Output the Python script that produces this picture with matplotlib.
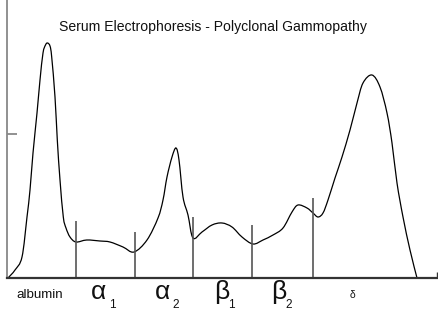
import matplotlib
matplotlib.use("Agg")
import matplotlib.pyplot as plt
from matplotlib.path import Path
from matplotlib.patches import PathPatch

plt.rcParams['font.family'] = ['Liberation Sans', 'DejaVu Sans']

# Densitometric trace of the serum protein electrophoresis (mobility, absorbance)
mobility = [1, 8, 15, 20, 23, 26, 30, 33, 36, 38.5, 40.5, 43, 44.7, 48, 50.3, 53, 56.3,
            59, 63, 69, 79.7, 93, 103, 116, 127, 140, 151, 156, 160, 165, 169, 172,
            176, 181, 186, 195, 205, 215, 225, 235, 246, 256, 266, 276, 285, 291,
            300, 306, 311, 316, 321, 328, 335, 343, 350, 356, 365, 373, 380, 385,
            390, 396, 403, 410]
absorbance = [0, 8, 21, 61, 88, 125, 165, 198, 225, 233, 235, 232, 221, 181, 138, 98, 61,
              50, 41, 36, 38, 37, 36, 31, 26, 38, 60, 78, 101, 121, 130, 118,
              81, 63, 40, 46, 53, 55, 51, 41, 34, 38, 43, 50, 66, 73,
              70, 65, 61, 65, 78, 100, 121, 148, 175, 195, 203, 191, 165, 135,
              95, 61, 28, 0]

# Fraction boundaries (position, height of the marker line)
boundary_pos = [69, 128, 186, 245, 306]
boundary_top = [57, 46, 61, 53, 80]

# Fraction names: (main glyph, subscript, glyph left, subscript left)
fraction_labels = [("α", "1", 84.2, 102), ("α", "2", 147.5, 165),
                   ("β", "1", 207, 221.5), ("β", "2", 263.7, 278.5)]

title = "Serum Electrophoresis - Polyclonal Gammopathy"


def smooth_path(xs, ys):
    """Catmull-Rom curve through the trace points, as cubic Bezier segments."""
    pts = list(zip(xs, ys))
    n = len(pts)
    verts = [pts[0]]
    codes = [Path.MOVETO]
    for i in range(n - 1):
        p0 = pts[max(i - 1, 0)]
        p1 = pts[i]
        p2 = pts[i + 1]
        p3 = pts[min(i + 2, n - 1)]
        c1 = (p1[0] + (p2[0] - p0[0]) / 6, p1[1] + (p2[1] - p0[1]) / 6)
        c2 = (p2[0] - (p3[0] - p1[0]) / 6, p2[1] - (p3[1] - p1[1]) / 6)
        verts += [c1, c2, p2]
        codes += [Path.CURVE4] * 3
    return Path(verts, codes)


W, H = 439, 326
fig = plt.figure(figsize=(W / 100, H / 100), dpi=100)
ax = fig.add_axes([7 / W, 48 / H, 431 / W, 278 / H])
ax.set_xlim(0, 431)
ax.set_ylim(0, 278)

ax.add_patch(PathPatch(smooth_path(mobility, absorbance), fill=False,
                       edgecolor="black", lw=0.9, capstyle="round"))
ax.vlines(boundary_pos, 0, boundary_top, color="#555555", lw=1.2)

for s in ("top", "right"):
    ax.spines[s].set_visible(False)
ax.spines["left"].set_color("#888888")
ax.spines["left"].set_linewidth(1.3)
ax.spines["bottom"].set_color("#333333")
ax.spines["bottom"].set_linewidth(1.6)

ax.set_yticks([144])
ax.set_yticklabels([])
ax.tick_params(axis="y", direction="in", length=7.2, width=1.3, color="#888888")
ax.set_xticks([430.5])
ax.set_xticklabels([])
ax.tick_params(axis="x", direction="in", length=4.3, width=1.0, color="#333333")

ax.text(206, 247.5, title, ha="center", va="baseline", fontsize=10.1, color="#111111")

ax.text(9.7, -20.5, "albumin", ha="left", va="baseline", fontsize=9.6,
        color="#111111", clip_on=False)
for glyph, sub, gx, sx in fraction_labels:
    ax.text(gx, -21.3, glyph, ha="left", va="baseline", fontsize=19,
            color="#111111", clip_on=False)
    ax.text(sx, -30, sub, ha="left", va="baseline", fontsize=8.5,
            color="#111111", clip_on=False)
ax.text(343, -20, "δ", ha="left", va="baseline", fontsize=7.5,
        color="#111111", clip_on=False)

fig.savefig("out.png", dpi=100)
